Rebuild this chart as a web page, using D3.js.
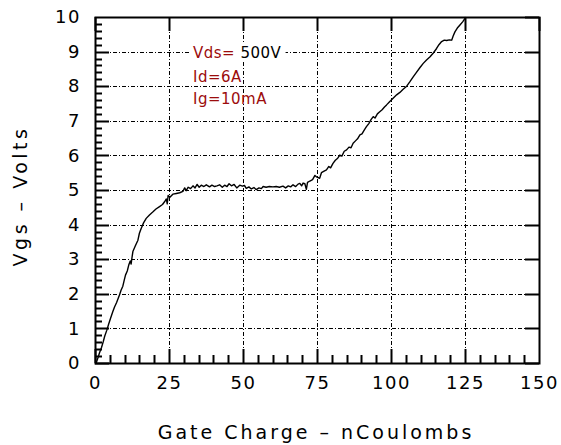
<!DOCTYPE html>
<html>
<head>
<meta charset="utf-8">
<script src="https://cdn.jsdelivr.net/npm/d3@7"></script>
<style>
  body { margin: 0; background: #fff; }
  svg { display: block; }
  .tick text { font-family: "DejaVu Sans", sans-serif; font-size: 18px; fill: #000; letter-spacing: 1.5px; }
  .domain { display: none; }
</style>
</head>
<body>
<div id="chart"></div>
<script>
// gate charge (nC) and gate voltage (V)
const charge = [0.4, 1.0, 1.5, 2.2, 2.8, 3.3, 4.0, 4.6, 5.2, 6.0, 6.6, 7.3, 8.3, 8.8, 9.4, 9.9, 10.3, 10.9,
  11.4, 11.9, 12.2, 12.5, 12.8, 13.6, 14.5, 15.0, 15.6, 16.4, 17.3, 18.4, 19.6, 20.6, 21.8, 22.8, 23.5,
  24.1, 24.4, 24.7, 25.3, 26.3, 27.5, 28.6, 29.7, 30.3, 30.8, 31.5, 32.3, 33.1, 33.8, 34.5, 35.2, 35.9,
  36.8, 37.6, 38.7, 39.5, 40.4, 41.2, 42.1, 43.0, 43.8, 44.6, 45.3, 46.1, 47.0, 47.9, 48.9, 49.8, 50.5,
  51.1, 52.0, 52.8, 53.7, 54.5, 55.4, 56.2, 56.8, 57.8, 58.9, 60.1, 61.2, 62.3, 63.5, 64.4, 65.3, 66.1,
  66.9, 67.8, 68.6, 69.2, 69.8, 70.3, 70.9, 71.4, 71.8, 72.6, 73.5, 74.3, 74.8, 75.9, 76.5, 77.1, 78.2,
  79.0, 79.6, 80.4, 81.2, 82.0, 82.7, 83.4, 84.2, 85.0, 85.8, 86.5, 87.2, 88.0, 88.7, 89.5, 90.2, 91.0,
  91.7, 92.5, 93.3, 94.0, 94.6, 95.4, 96.2, 97.0, 97.8, 98.5, 99.6, 100.8, 101.9, 103.0, 104.1, 105.3,
  106.4, 107.5, 108.6, 109.8, 110.9, 112.0, 113.2, 114.3, 115.4, 116.2, 117.1, 118.0, 118.8, 119.7,
  120.5, 121.0, 121.6, 122.4, 123.3, 124.2, 125.0, 125.2];
const vgs = [0.00, 0.15, 0.29, 0.45, 0.62, 0.78, 0.95, 1.12, 1.28, 1.48, 1.62, 1.75, 1.97, 2.10, 2.22, 2.40, 2.54, 2.66,
  2.83, 2.95, 2.86, 3.05, 3.22, 3.38, 3.55, 3.75, 3.89, 4.05, 4.18, 4.28, 4.37, 4.45, 4.52, 4.58, 4.66,
  4.74, 4.60, 4.84, 4.79, 4.88, 4.90, 4.92, 4.96, 5.06, 4.98, 5.08, 5.04, 5.12, 5.06, 5.16, 5.08, 5.14,
  5.10, 5.15, 5.09, 5.14, 5.10, 5.12, 5.15, 5.08, 5.14, 5.10, 5.18, 5.12, 5.16, 5.06, 5.14, 5.11, 5.13,
  5.05, 5.09, 5.03, 5.07, 5.01, 5.06, 5.04, 5.10, 5.08, 5.10, 5.09, 5.10, 5.08, 5.11, 5.06, 5.12, 5.09,
  5.15, 5.10, 5.17, 5.19, 5.12, 5.20, 5.18, 5.02, 5.22, 5.26, 5.30, 5.42, 5.38, 5.34, 5.50, 5.53, 5.58,
  5.68, 5.64, 5.77, 5.86, 5.92, 6.01, 5.98, 6.12, 6.16, 6.24, 6.22, 6.35, 6.42, 6.48, 6.59, 6.62, 6.74,
  6.83, 6.92, 7.04, 7.12, 7.08, 7.20, 7.26, 7.32, 7.40, 7.46, 7.56, 7.66, 7.75, 7.82, 7.91, 8.00,
  8.13, 8.27, 8.40, 8.54, 8.66, 8.76, 8.85, 8.96, 9.09, 9.20, 9.29, 9.33, 9.32, 9.34,
  9.33, 9.45, 9.57, 9.68, 9.77, 9.86, 9.96, 10.0];

const xTicks = [0, 25, 50, 75, 100, 125, 150];
const yTicks = [0, 1, 2, 3, 4, 5, 6, 7, 8, 9, 10];
const xMinor = d3.range(0, 150, 5);
const yMinor = d3.range(0, 50).map(i => i / 5);
const notes = ["Id=6A", "Ig=10mA"];

const svg = d3.select("#chart").append("svg")
    .attr("width", 561)
    .attr("height", 445);

let margin = {top: 17, right: 22, bottom: 82, left: 95},
    width = 561 - margin.left - margin.right,
    height = 445 - margin.top - margin.bottom;

let x = d3.scaleLinear().domain([0, 150]).range([0, width]),
    y = d3.scaleLinear().domain([0, 10]).range([height, 0]);

let g = svg.append("g")
    .attr("transform", "translate(" + margin.left + "," + margin.top + ")");

let px = v => Math.round(x(v)) + 0.5,
    py = v => Math.round(y(v)) + 0.5;

// dotted grid
let grid = g.append("g")
    .attr("stroke", "#000")
    .attr("stroke-width", 1)
    .attr("stroke-dasharray", "4,2,1,2");
grid.selectAll(".gx").data(xTicks.slice(1, -1)).enter().append("line")
    .attr("x1", d => px(d)).attr("x2", d => px(d))
    .attr("y1", 0).attr("y2", height);
grid.selectAll(".gy").data(yTicks.slice(1, -1)).enter().append("line")
    .attr("y1", d => py(d)).attr("y2", d => py(d))
    .attr("x1", 0).attr("x2", width);

// tick labels
g.append("g")
    .call(d3.axisLeft(y).tickValues(yTicks).tickSize(0).tickPadding(14));
g.append("g")
    .attr("transform", "translate(0," + height + ")")
    .call(d3.axisBottom(x).tickValues(xTicks).tickSize(0).tickPadding(13));

// tick marks
let marks = g.append("g");
marks.selectAll(".ly").data(yMinor).enter().append("line")
    .attr("stroke", "#000").attr("stroke-width", 2)
    .attr("x1", 0).attr("x2", d => (d % 1 === 0 ? 14 : 7))
    .attr("y1", d => py(d)).attr("y2", d => py(d));
marks.selectAll(".ry").data(yTicks).enter().append("line")
    .attr("stroke", "#000").attr("stroke-width", 2)
    .attr("x1", width).attr("x2", width - 14)
    .attr("y1", d => py(d)).attr("y2", d => py(d));
marks.selectAll(".bx").data(xMinor).enter().append("line")
    .attr("stroke", "#000").attr("stroke-width", 2)
    .attr("y1", height).attr("y2", d => (d % 25 === 0 ? height - 14 : height - 8))
    .attr("x1", d => px(d)).attr("x2", d => px(d));
marks.selectAll(".tx").data(xTicks).enter().append("line")
    .attr("stroke", "#000").attr("stroke-width", 2)
    .attr("y1", 0).attr("y2", 14)
    .attr("x1", d => px(d)).attr("x2", d => px(d));

g.append("rect")
    .attr("x", 0.5)
    .attr("y", 0.5)
    .attr("width", width)
    .attr("height", height)
    .attr("fill", "none")
    .attr("stroke", "#000")
    .attr("stroke-width", 2);

// gate charge curve
g.append("path")
    .datum(d3.zip(charge, vgs))
    .attr("fill", "none")
    .attr("stroke", "#000")
    .attr("stroke-width", 1.4)
    .attr("stroke-linejoin", "round")
    .attr("d", d3.line().x(d => x(d[0])).y(d => y(d[1])));

// conditions
let note = g.append("g")
    .attr("font-family", "DejaVu Sans, sans-serif")
    .attr("font-size", 15)
    .attr("letter-spacing", 0.5);
let bg = note.append("rect").attr("fill", "#fff");
let t0 = note.append("text").attr("x", 98).attr("y", 41).attr("fill", "#9c0c0c");
t0.append("tspan").text("Vds=");
t0.append("tspan").attr("fill", "#000").text(" 500V");
let bb = t0.node().getBBox();
bg.attr("x", bb.x - 4).attr("y", bb.y).attr("width", bb.width + 8).attr("height", bb.height);
note.selectAll(".n")
    .data(notes)
    .enter().append("text")
    .attr("x", 98)
    .attr("y", (d, i) => 65 + i * 22)
    .attr("fill", "#9c0c0c")
    .text(d => d);

// axis titles
svg.append("text")
    .attr("x", 316)
    .attr("y", 439)
    .attr("text-anchor", "middle")
    .attr("font-family", "DejaVu Sans, sans-serif")
    .attr("font-size", 19)
    .attr("letter-spacing", 3)
    .text("Gate Charge – nCoulombs");

svg.append("text")
    .attr("transform", "translate(27,196) rotate(-90)")
    .attr("text-anchor", "middle")
    .attr("font-family", "DejaVu Sans, sans-serif")
    .attr("font-size", 19)
    .attr("letter-spacing", 3.5)
    .text("Vgs – Volts");
</script>
</body>
</html>
